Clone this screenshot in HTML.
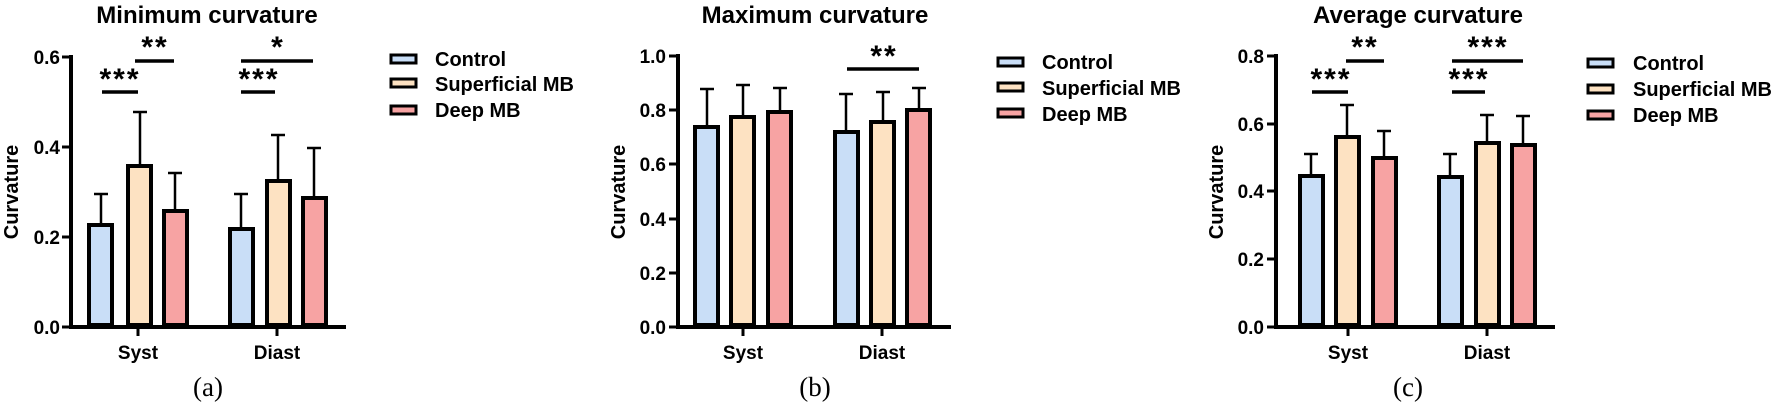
<!DOCTYPE html>
<html><head><meta charset="utf-8"><style>
html,body{margin:0;padding:0;background:#fff;}
svg{display:block;}
text{font-family:"Liberation Sans",sans-serif;font-weight:bold;fill:#000;}
.t{font-size:19px;}
.yl{font-size:20px;}
.lg{font-size:20px;}
.ti{font-size:24px;}
.st{font-size:30px;letter-spacing:2px;}
.cap{font-family:"Liberation Serif",serif;font-weight:normal;font-size:27px;}
</style></head><body>
<svg width="1772" height="404" viewBox="0 0 1772 404" xmlns="http://www.w3.org/2000/svg">
<g stroke="#000" stroke-linecap="butt">
<!-- ===== Panel a ===== -->
<line x1="71" y1="55" x2="71" y2="329" stroke-width="4"/>
<line x1="69" y1="327" x2="346" y2="327" stroke-width="4"/>
<line x1="62" y1="57" x2="71" y2="57" stroke-width="3"/>
<line x1="62" y1="147" x2="71" y2="147" stroke-width="3"/>
<line x1="62" y1="237" x2="71" y2="237" stroke-width="3"/>
<line x1="62" y1="327" x2="71" y2="327" stroke-width="3"/>
<line x1="138" y1="327" x2="138" y2="336" stroke-width="3"/>
<line x1="277" y1="327" x2="277" y2="336" stroke-width="3"/>
<g stroke-width="2.5">
<line x1="101" y1="223" x2="101" y2="194"/><line x1="94" y1="194" x2="108" y2="194"/>
<line x1="140" y1="164" x2="140" y2="112"/><line x1="133" y1="112" x2="147" y2="112"/>
<line x1="175" y1="209" x2="175" y2="173"/><line x1="168" y1="173" x2="182" y2="173"/>
<line x1="241" y1="227" x2="241" y2="194"/><line x1="234" y1="194" x2="248" y2="194"/>
<line x1="278" y1="179" x2="278" y2="135"/><line x1="271" y1="135" x2="285" y2="135"/>
<line x1="314" y1="196" x2="314" y2="148"/><line x1="307" y1="148" x2="321" y2="148"/>
</g>
<g stroke-width="4">
<rect x="89" y="225" width="23" height="100" fill="#c9def7"/>
<rect x="128" y="166" width="23" height="159" fill="#fde2c2"/>
<rect x="164" y="211" width="23" height="114" fill="#f7a3a3"/>
<rect x="230" y="229" width="23" height="96" fill="#c9def7"/>
<rect x="267" y="181" width="23" height="144" fill="#fde2c2"/>
<rect x="303" y="198" width="23" height="127" fill="#f7a3a3"/>
</g>
<g stroke-width="3.5">
<line x1="102" y1="92" x2="138" y2="92"/>
<line x1="135" y1="61" x2="174" y2="61"/>
<line x1="241" y1="92" x2="275" y2="92"/>
<line x1="241" y1="61" x2="313" y2="61"/>
</g>
<g stroke-width="3">
<rect x="391" y="55" width="25" height="8" fill="#c9def7"/>
<rect x="391" y="79" width="25" height="8" fill="#fde2c2"/>
<rect x="391" y="106" width="25" height="8" fill="#f7a3a3"/>
</g>

<!-- ===== Panel b ===== -->
<line x1="678" y1="54" x2="678" y2="329" stroke-width="4"/>
<line x1="676" y1="327" x2="951" y2="327" stroke-width="4"/>
<line x1="669" y1="56" x2="678" y2="56" stroke-width="3"/>
<line x1="669" y1="110" x2="678" y2="110" stroke-width="3"/>
<line x1="669" y1="164" x2="678" y2="164" stroke-width="3"/>
<line x1="669" y1="219" x2="678" y2="219" stroke-width="3"/>
<line x1="669" y1="273" x2="678" y2="273" stroke-width="3"/>
<line x1="669" y1="327" x2="678" y2="327" stroke-width="3"/>
<line x1="743" y1="327" x2="743" y2="336" stroke-width="3"/>
<line x1="882" y1="327" x2="882" y2="336" stroke-width="3"/>
<g stroke-width="2.5">
<line x1="707" y1="125" x2="707" y2="89"/><line x1="700" y1="89" x2="714" y2="89"/>
<line x1="743" y1="115" x2="743" y2="85"/><line x1="736" y1="85" x2="750" y2="85"/>
<line x1="780" y1="110" x2="780" y2="88"/><line x1="773" y1="88" x2="787" y2="88"/>
<line x1="846" y1="130" x2="846" y2="94"/><line x1="839" y1="94" x2="853" y2="94"/>
<line x1="883" y1="120" x2="883" y2="92"/><line x1="876" y1="92" x2="890" y2="92"/>
<line x1="919" y1="108" x2="919" y2="88"/><line x1="912" y1="88" x2="926" y2="88"/>
</g>
<g stroke-width="4">
<rect x="695" y="127" width="23" height="198" fill="#c9def7"/>
<rect x="731" y="117" width="23" height="208" fill="#fde2c2"/>
<rect x="768" y="112" width="23" height="213" fill="#f7a3a3"/>
<rect x="835" y="132" width="23" height="193" fill="#c9def7"/>
<rect x="871" y="122" width="23" height="203" fill="#fde2c2"/>
<rect x="907" y="110" width="23" height="215" fill="#f7a3a3"/>
</g>
<line x1="847" y1="69" x2="919" y2="69" stroke-width="3.5"/>
<g stroke-width="3">
<rect x="998" y="58" width="25" height="8" fill="#c9def7"/>
<rect x="998" y="83" width="25" height="8" fill="#fde2c2"/>
<rect x="998" y="109" width="25" height="8" fill="#f7a3a3"/>
</g>

<!-- ===== Panel c ===== -->
<line x1="1276" y1="54" x2="1276" y2="329" stroke-width="4"/>
<line x1="1274" y1="327" x2="1555" y2="327" stroke-width="4"/>
<line x1="1267" y1="56" x2="1276" y2="56" stroke-width="3"/>
<line x1="1267" y1="124" x2="1276" y2="124" stroke-width="3"/>
<line x1="1267" y1="191" x2="1276" y2="191" stroke-width="3"/>
<line x1="1267" y1="259" x2="1276" y2="259" stroke-width="3"/>
<line x1="1267" y1="327" x2="1276" y2="327" stroke-width="3"/>
<line x1="1348" y1="327" x2="1348" y2="336" stroke-width="3"/>
<line x1="1487" y1="327" x2="1487" y2="336" stroke-width="3"/>
<g stroke-width="2.5">
<line x1="1311" y1="174" x2="1311" y2="154"/><line x1="1304" y1="154" x2="1318" y2="154"/>
<line x1="1347" y1="135" x2="1347" y2="105"/><line x1="1340" y1="105" x2="1354" y2="105"/>
<line x1="1384" y1="156" x2="1384" y2="131"/><line x1="1377" y1="131" x2="1391" y2="131"/>
<line x1="1450" y1="175" x2="1450" y2="154"/><line x1="1443" y1="154" x2="1457" y2="154"/>
<line x1="1487" y1="141" x2="1487" y2="115"/><line x1="1480" y1="115" x2="1494" y2="115"/>
<line x1="1523" y1="143" x2="1523" y2="116"/><line x1="1516" y1="116" x2="1530" y2="116"/>
</g>
<g stroke-width="4">
<rect x="1300" y="176" width="23" height="149" fill="#c9def7"/>
<rect x="1336" y="137" width="23" height="188" fill="#fde2c2"/>
<rect x="1373" y="158" width="23" height="167" fill="#f7a3a3"/>
<rect x="1439" y="177" width="23" height="148" fill="#c9def7"/>
<rect x="1476" y="143" width="23" height="182" fill="#fde2c2"/>
<rect x="1512" y="145" width="23" height="180" fill="#f7a3a3"/>
</g>
<g stroke-width="3.5">
<line x1="1312" y1="92" x2="1348" y2="92"/>
<line x1="1346" y1="61" x2="1384" y2="61"/>
<line x1="1452" y1="92" x2="1485" y2="92"/>
<line x1="1452" y1="61" x2="1523" y2="61"/>
</g>
<g stroke-width="3">
<rect x="1588" y="59" width="25" height="8" fill="#c9def7"/>
<rect x="1588" y="85" width="25" height="8" fill="#fde2c2"/>
<rect x="1588" y="111" width="25" height="8" fill="#f7a3a3"/>
</g>
</g>

<!-- Text panel a -->
<text class="ti" x="207" y="23" text-anchor="middle">Minimum curvature</text>
<g class="t" text-anchor="end">
<text x="60" y="64">0.6</text><text x="60" y="154">0.4</text><text x="60" y="244">0.2</text><text x="60" y="334">0.0</text>
</g>
<text class="t" x="138" y="359" text-anchor="middle">Syst</text>
<text class="t" x="277" y="359" text-anchor="middle">Diast</text>
<text class="yl" transform="translate(18,192) rotate(-90)" text-anchor="middle">Curvature</text>
<text class="st" x="120" y="89" text-anchor="middle">***</text>
<text class="st" x="155" y="57" text-anchor="middle">**</text>
<text class="st" x="259" y="89" text-anchor="middle">***</text>
<text class="st" x="278" y="57" text-anchor="middle">*</text>
<text class="lg" x="435" y="66">Control</text>
<text class="lg" x="435" y="91">Superficial MB</text>
<text class="lg" x="435" y="117">Deep MB</text>
<text class="cap" x="208" y="396" text-anchor="middle">(a)</text>

<!-- Text panel b -->
<text class="ti" x="815" y="23" text-anchor="middle">Maximum curvature</text>
<g class="t" text-anchor="end">
<text x="666" y="63">1.0</text><text x="666" y="117">0.8</text><text x="666" y="171">0.6</text><text x="666" y="226">0.4</text><text x="666" y="280">0.2</text><text x="666" y="334">0.0</text>
</g>
<text class="t" x="743" y="359" text-anchor="middle">Syst</text>
<text class="t" x="882" y="359" text-anchor="middle">Diast</text>
<text class="yl" transform="translate(625,192) rotate(-90)" text-anchor="middle">Curvature</text>
<text class="st" x="884" y="66" text-anchor="middle">**</text>
<text class="lg" x="1042" y="69">Control</text>
<text class="lg" x="1042" y="95">Superficial MB</text>
<text class="lg" x="1042" y="121">Deep MB</text>
<text class="cap" x="815" y="396" text-anchor="middle">(b)</text>

<!-- Text panel c -->
<text class="ti" x="1418" y="23" text-anchor="middle">Average curvature</text>
<g class="t" text-anchor="end">
<text x="1264" y="63">0.8</text><text x="1264" y="131">0.6</text><text x="1264" y="198">0.4</text><text x="1264" y="266">0.2</text><text x="1264" y="334">0.0</text>
</g>
<text class="t" x="1348" y="359" text-anchor="middle">Syst</text>
<text class="t" x="1487" y="359" text-anchor="middle">Diast</text>
<text class="yl" transform="translate(1223,192) rotate(-90)" text-anchor="middle">Curvature</text>
<text class="st" x="1331" y="89" text-anchor="middle">***</text>
<text class="st" x="1365" y="57" text-anchor="middle">**</text>
<text class="st" x="1469" y="89" text-anchor="middle">***</text>
<text class="st" x="1488" y="57" text-anchor="middle">***</text>
<text class="lg" x="1633" y="70">Control</text>
<text class="lg" x="1633" y="96">Superficial MB</text>
<text class="lg" x="1633" y="122">Deep MB</text>
<text class="cap" x="1408" y="396" text-anchor="middle">(c)</text>
</svg>
</body></html>
